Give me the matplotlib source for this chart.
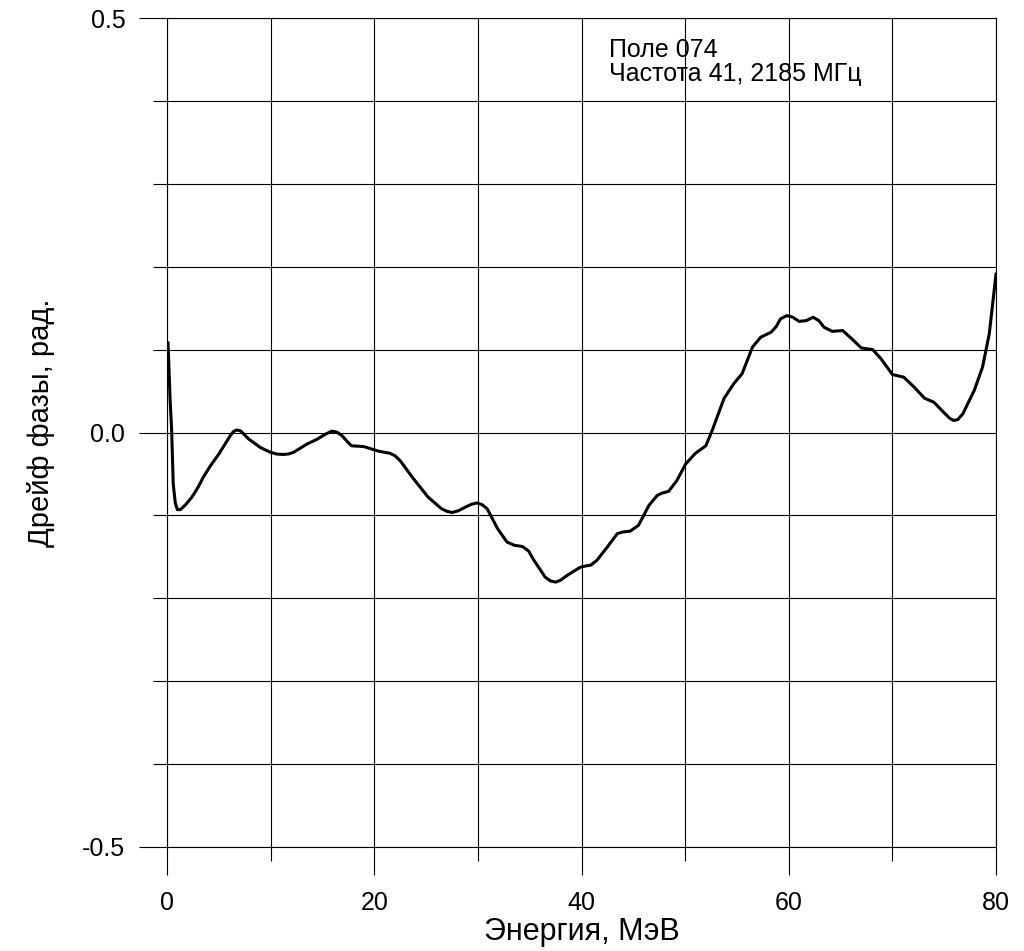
import numpy as np
import matplotlib
matplotlib.use('Agg')
import matplotlib.pyplot as plt
from matplotlib.ticker import MultipleLocator, FixedLocator

plt.rcParams['font.family'] = ['Liberation Sans', 'DejaVu Sans']

# Data -----------------------------------------------------------------------------------------------------------------
energy = [0.1, 0.3, 0.45, 0.6, 0.8, 1.0, 1.3, 1.8, 2.4, 3.0, 3.5, 4.2, 5.0, 5.6, 6.1, 6.4, 6.7, 7.1,
          7.9, 9.0, 10.0, 10.6, 11.2, 11.7, 12.2, 13.5, 14.5, 15.3, 15.9, 16.4, 16.9, 17.4, 17.8,
          18.4, 19.0, 20.4, 21.5, 22.0, 22.5, 23.8, 25.2, 26.5, 27.0, 27.5, 28.1, 28.8, 29.4, 29.9,
          30.4, 30.9, 31.9, 32.8, 33.5, 34.3, 34.9, 35.4, 36.5, 37.0, 37.5, 38.0, 38.6, 39.3, 39.9,
          40.4, 40.9, 41.5, 42.5, 43.45, 44.0, 44.7, 45.5, 46.5, 47.3, 47.8, 48.4, 49.2, 50.05,
          51.0, 52.0, 52.6, 53.75, 54.7, 55.5, 56.5, 57.3, 58.3, 58.8, 59.2, 59.8, 60.4, 61.0, 61.7,
          62.35, 62.9, 63.4, 64.2, 65.2, 66.0, 67.0, 68.1, 68.9, 70.0, 71.1, 72.1, 73.1, 74.0, 75.0,
          75.5, 75.9, 76.3, 76.8, 77.9, 78.7, 79.35, 80.0]
drift = [0.108, 0.04, 0.002, -0.062, -0.085, -0.093, -0.093, -0.087, -0.078, -0.066, -0.054,
         -0.040, -0.026, -0.014, -0.004, 0.001, 0.003, 0.002, -0.008, -0.018, -0.024, -0.026,
         -0.0265, -0.026, -0.024, -0.014, -0.008, -0.002, 0.0016, 0.0005, -0.004, -0.011, -0.016,
         -0.0165, -0.017, -0.0225, -0.025, -0.028, -0.034, -0.056, -0.078, -0.092, -0.095, -0.0965,
         -0.0945, -0.09, -0.0865, -0.085, -0.087, -0.092, -0.116, -0.132, -0.136, -0.1375, -0.143,
         -0.154, -0.1745, -0.179, -0.1805, -0.178, -0.1725, -0.167, -0.1625, -0.161, -0.160,
         -0.154, -0.138, -0.122, -0.120, -0.119, -0.112, -0.088, -0.076, -0.073, -0.071, -0.058,
         -0.038, -0.025, -0.016, 0.002, 0.041, 0.059, 0.071, 0.103, 0.115, 0.121, 0.128, 0.137,
         0.141, 0.139, 0.134, 0.135, 0.139, 0.135, 0.127, 0.122, 0.123, 0.114, 0.102, 0.100, 0.089,
         0.070, 0.0667, 0.0547, 0.0414, 0.0366, 0.0237, 0.0175, 0.0145, 0.0155, 0.0225, 0.0507,
         0.0788, 0.119, 0.191]

x_ticks = [0, 20, 40, 60, 80]
y_ticks = [-0.5, 0.0, 0.5]
y_tick_labels = ['-0.5', '0.0', '0.5']
note_lines = ['Поле 074', 'Частота 41, 2185 МГц']

# Figure ---------------------------------------------------------------------------------------------------------------
fig = plt.figure(figsize=(10.24, 9.51), dpi=100)
ax = fig.add_axes([167 / 1024, 1 - 847 / 951, 829 / 1024, 829 / 951])

ax.plot(energy, drift, color='black', linewidth=2.2, solid_joinstyle='round')

ax.set_xlim(0, 80)
ax.set_ylim(-0.5, 0.5)

ax.xaxis.set_major_locator(FixedLocator(x_ticks))
ax.xaxis.set_minor_locator(MultipleLocator(10))
ax.yaxis.set_major_locator(FixedLocator(y_ticks))
ax.yaxis.set_minor_locator(MultipleLocator(0.1))
ax.set_yticklabels(y_tick_labels)

ax.tick_params(which='major', direction='out', length=20, width=0.8, labelsize=18)
ax.tick_params(axis='y', which='major', pad=10)
ax.tick_params(axis='x', which='major', pad=12)
ax.tick_params(which='minor', direction='out', length=10, width=0.8)
ax.grid(True, which='both', color='black', linewidth=0.8)
for s in ax.spines.values():
    s.set_linewidth(0.8)

ax.set_xlabel('Энергия, МэВ', fontsize=22, labelpad=1)
ax.set_ylabel('Дрейф фазы, рад.', fontsize=21)
ax.yaxis.set_label_coords(-0.135, 0.512)

ax.text(0.5326, 0.9525, note_lines[0], transform=ax.transAxes, fontsize=18, va='baseline')
ax.text(0.5326, 0.9245, note_lines[1], transform=ax.transAxes, fontsize=18, va='baseline')

fig.savefig('out.png', dpi=100)
